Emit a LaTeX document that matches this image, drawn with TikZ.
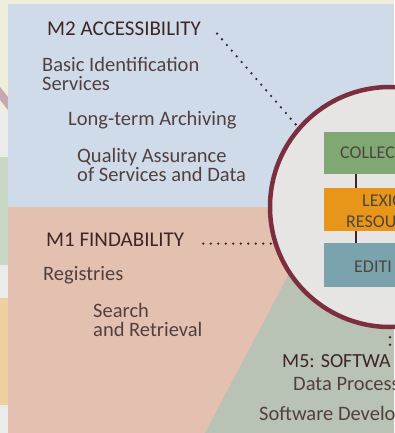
\documentclass[tikz,border=0pt]{standalone}
\usepackage{fontspec}
\setmainfont{Carlito}
\usepackage{tikz}
\usetikzlibrary{calc}
\usetikzlibrary{positioning}
\definecolor{beigebg}{HTML}{EFEEDD}
\definecolor{accessblue}{HTML}{CFDBE8}
\definecolor{findsalmon}{HTML}{E4C0B0}
\definecolor{softgreen}{HTML}{B8C2B5}
\definecolor{hubfill}{HTML}{E6E5E3}
\definecolor{hubring}{HTML}{7B2F3E}
\definecolor{collgreen}{HTML}{7FA873}
\definecolor{lexorange}{HTML}{E8961A}
\definecolor{editteal}{HTML}{7AA3AE}
\definecolor{headcol}{HTML}{3E2526}
\definecolor{itemcol}{HTML}{524040}
\definecolor{boxtext}{HTML}{4D4640}
\tikzset{
    head/.style={anchor=base west, inner sep=0pt, text=headcol, font=\fontsize{21}{21}\selectfont},
    item/.style={anchor=base west, inner sep=0pt, align=left, text=itemcol, font=\fontsize{20.5}{19}\selectfont},
    area/.style={rectangle, draw=none, minimum width=90pt, minimum height=43pt, anchor=north west, inner sep=0pt},
    boxlabel/.style={anchor=base west, inner sep=0pt, text=boxtext, font=\fontsize{18}{18}\selectfont},
    dots/.style={line width=2.6pt, line cap=round, dash pattern=on 0pt off 7.5pt, color=headcol}
}

\begin{document}
\begin{tikzpicture}[x=1pt, y=-1pt]
    \useasboundingbox (0,0) rectangle (394,433);
    % backgrounds
    \fill[beigebg] (0,0) rectangle (394,433);
    \fill[black!8] (0,110) rectangle (8,433);
    \fill[color={rgb,255:red,200;green,168;blue,176}] (0,87) -- (8,97) -- (8,110) -- (0,100) -- cycle;
    \fill[color={rgb,255:red,200;green,216;blue,196}] (0,157) rectangle (8,265);
    \fill[color={rgb,255:red,238;green,208;blue,158}] (0,298) rectangle (8,405);
    \fill[accessblue] (8,4) rectangle (394,207);
    \fill[findsalmon] (8,207) rectangle (394,433);
    \fill[softgreen] (205,433) -- (290,272) -- (394,272) -- (394,433) -- cycle;

    \node[circle, draw=hubring, line width=4.5pt, fill=hubfill, minimum size=240pt, inner sep=0pt] (hub) at (390,207) {};
    \node[area, fill=collgreen, minimum height=42pt] (coll) at (324,132) {};
    \node[area, fill=lexorange] (lex) at (324,188) {};
    \node[area, fill=editteal, minimum height=44pt] (edit) at (324,243) {};
    \draw[line width=1.5pt, headcol] (coll.south -| 356,0) -- (lex.north -| 356,0);
    \draw[line width=1.5pt, headcol] (lex.south -| 356,0) -- (edit.north -| 356,0);
    \node[boxlabel] (colltxt) at (340,158) {COLLEC};
    \node[boxlabel] (lextxt) at (362,206) {LEXIC};
    \node[boxlabel] (restxt) at (346,227) {RESOU};
    \node[boxlabel] (edittxt) at (354,272) {EDITI};

    \node[head] (m2) at (47,36) {M2 ACCESSIBILITY};
    \node[item] (basic) at (42,91) {Basic Identification\\Services};
    \node[item] (archive) at (68,125) {Long-term Archiving};
    \node[item] (quality) at (77,181) {Quality Assurance\\of Services and Data};

    \node[head] (m1) at (46,246) {M1 FINDABILITY};
    \node[item] (registry) at (43,280) {Registries};
    \node[item] (search) at (93,336) {Search\\and Retrieval};

    \node[head, font=\fontsize{20}{20}\selectfont] (m5) at (282,367) {M5: SOFTWA};
    \node[item] (process) at (293,390) {Data Process};
    \node[item] (develop) at (259,420) {Software Develo};

    \draw[dots] ([xshift=16pt]m2.mid east) -- (hub.139);
    \draw[dots] ([xshift=19pt]m1.mid east) -- (m1.mid east -| hub.195);
    \draw[dots] ([yshift=-8pt]hub.south) -- ([yshift=5pt]hub.south |- m5.north);
\end{tikzpicture}
\end{document}
